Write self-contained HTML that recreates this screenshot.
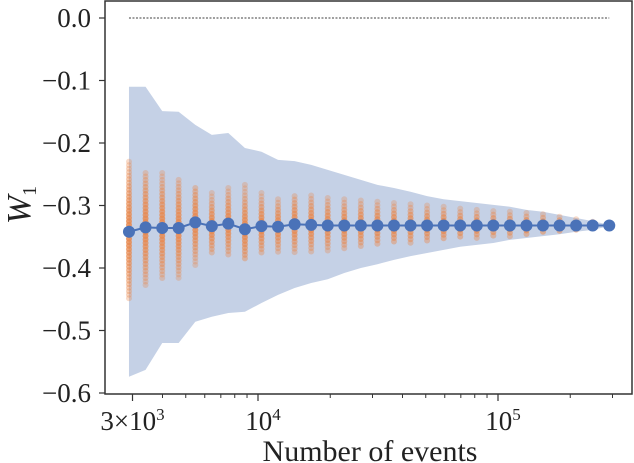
<!DOCTYPE html>
<html><head><meta charset="utf-8"><style>
html,body{margin:0;padding:0;background:#fff;}
svg{display:block;font-family:"Liberation Serif",serif;}
</style></head><body>
<svg id="chart" width="634" height="463" viewBox="0 0 634 463" xmlns="http://www.w3.org/2000/svg"></svg>
<script>
const nEvents=[2900,3400,3990,4670,5480,6420,7520,8820,10340,12120,14210,16660,19520,22880,26820,31440,36860,43210,50640,59370,69590,81570,95620,112100,131400,154000,180500,211600,248000,290800];
const meanVals=[-0.342,-0.335,-0.336,-0.336,-0.327,-0.333,-0.329,-0.338,-0.333,-0.334,-0.330,-0.331,-0.332,-0.332,-0.332,-0.332,-0.332,-0.332,-0.332,-0.332,-0.332,-0.332,-0.332,-0.332,-0.332,-0.332,-0.332,-0.332,-0.332,-0.332];
const bandUpper=[-0.110,-0.110,-0.149,-0.150,-0.171,-0.187,-0.184,-0.208,-0.214,-0.227,-0.229,-0.235,-0.243,-0.251,-0.259,-0.267,-0.272,-0.278,-0.285,-0.290,-0.293,-0.296,-0.299,-0.302,-0.307,-0.310,-0.315,-0.320,-0.325,-0.331];
const bandLower=[-0.574,-0.563,-0.520,-0.520,-0.486,-0.478,-0.472,-0.470,-0.456,-0.443,-0.432,-0.424,-0.418,-0.408,-0.400,-0.394,-0.387,-0.381,-0.376,-0.371,-0.366,-0.363,-0.360,-0.355,-0.352,-0.349,-0.346,-0.342,-0.339,-0.333];
const dotHi=[-0.230,-0.248,-0.248,-0.259,-0.272,-0.280,-0.272,-0.267,-0.280,-0.290,-0.285,-0.284,-0.288,-0.290,-0.292,-0.294,-0.296,-0.298,-0.300,-0.302,-0.305,-0.307,-0.309,-0.310,-0.312,-0.314,-0.318,-0.322,-0.326,-0.330];
const dotLo=[-0.451,-0.430,-0.416,-0.416,-0.398,-0.376,-0.382,-0.387,-0.378,-0.376,-0.380,-0.376,-0.372,-0.370,-0.368,-0.366,-0.363,-0.361,-0.359,-0.357,-0.355,-0.353,-0.351,-0.350,-0.349,-0.347,-0.344,-0.340,-0.337,-0.334];
const yTicks=[0,-0.1,-0.2,-0.3,-0.4,-0.5,-0.6];
const yTickLabels=["0.0","\u22120.1","\u22120.2","\u22120.3","\u22120.4","\u22120.5","\u22120.6"];
const xMajor=[3000,10000,100000];
const xMinor=[4000,5000,6000,7000,8000,9000,20000,30000,40000,50000,60000,70000,80000,90000,200000,300000];

const NS="http://www.w3.org/2000/svg";
const svg=document.getElementById('chart');
const L=105,R=632,T=1,B=394;
const X=v=>258+(Math.log10(v)-4)*240;
const Y=v=>18-v*625;
function el(tag,attrs,parent){const e=document.createElementNS(NS,tag);for(const k in attrs)e.setAttribute(k,attrs[k]);(parent||svg).appendChild(e);return e;}

let pts=nEvents.map((n,i)=>X(n)+','+Y(bandUpper[i]));
for(let i=nEvents.length-1;i>=0;i--)pts.push(X(nEvents[i])+','+Y(bandLower[i]));
const band=el('polygon',{points:pts.join(' '),fill:'#c5d1e6'});



const zl=el('line',{x1:X(nEvents[0]),x2:X(nEvents[nEvents.length-1]),y1:Y(0),y2:Y(0),stroke:'#000','stroke-width':0.8,'stroke-dasharray':'2,1.5'});



const sg=el('g',{});


nEvents.forEach((n,i)=>{
  const x=X(n),y1=Y(dotHi[i]),y2=Y(dotLo[i]),ym=Y(meanVals[i]);
  const span=Math.max(y2-y1,1);
  for(let y=y1;y<=y2;y+=3.5){
    const d=Math.abs(y-ym)/(span/2);
    const op=Math.max(0.3,0.9-0.6*d);
    el('circle',{cx:x,cy:y,r:3,fill:'#e8894f','fill-opacity':op},sg);
  }
});

const ml=el('polyline',{points:nEvents.map((n,i)=>X(n)+','+Y(meanVals[i])).join(' '),fill:'none',stroke:'#4a72b8','stroke-width':2});


nEvents.forEach((n,i)=>{
  const c=el('circle',{cx:X(n),cy:Y(meanVals[i]),r:6,fill:'#4a72b8'});
  
  
});

const fr=el('rect',{x:L,y:T,width:R-L,height:B-T,fill:'none',stroke:'#333','stroke-width':1.5});



yTicks.forEach((v,i)=>{
  el('line',{x1:L-6,x2:L,y1:Y(v),y2:Y(v),stroke:'#333','stroke-width':1.2});
  const t=el('text',{x:L-14,y:Y(v)+9,'text-anchor':'end','font-size':27,fill:'#222'});
  t.textContent=yTickLabels[i];
  
  
});
xMajor.forEach(v=>el('line',{x1:X(v),x2:X(v),y1:B,y2:B+7,stroke:'#333','stroke-width':1.2}));
xMinor.forEach(v=>el('line',{x1:X(v),x2:X(v),y1:B,y2:B+4,stroke:'#333','stroke-width':1}));
function xl(x,html,name){const t=el('text',{x:x,y:430,'text-anchor':'middle','font-size':27,fill:'#222'});t.innerHTML=html;}
xl(X(3000),'3×10<tspan dy="-10" font-size="17">3</tspan>','x-tick-label-3e3');
xl(X(10000)+5,'10<tspan dy="-10" font-size="17">4</tspan>','x-tick-label-1e4');
xl(X(100000)+5,'10<tspan dy="-10" font-size="17">5</tspan>','x-tick-label-1e5');

const xt=el('text',{x:370,y:461,'text-anchor':'middle','font-size':30,fill:'#222'});
xt.textContent='Number of events';


const yt=el('text',{x:0,y:0,'text-anchor':'middle','font-size':34,'font-style':'italic',fill:'#222',transform:'translate(30,205) rotate(-90)'});
yt.innerHTML='W<tspan dy="6" font-size="20" font-style="normal">1</tspan>';


</script>
</body></html>
